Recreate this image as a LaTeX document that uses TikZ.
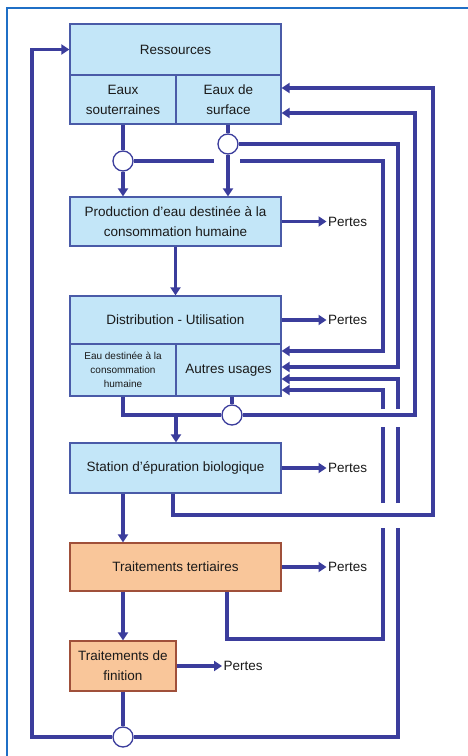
\documentclass[tikz,border=0pt]{standalone}
\usepackage{fontspec}
\setmainfont{Liberation Sans}
\usetikzlibrary{arrows.meta,calc}
\definecolor{lnc}{HTML}{3B3D9C}
\definecolor{bxf}{HTML}{C3E6F8}
\definecolor{bxd}{HTML}{4A5BA8}
\definecolor{obf}{HTML}{F9C69A}
\definecolor{obd}{HTML}{A0503A}
\definecolor{txt}{HTML}{1A1A1A}
\definecolor{frm}{HTML}{1F6FC6}
\begin{document}
\begin{tikzpicture}[x=1pt,y=-1pt,
  box/.style={draw=bxd, fill=bxf, line width=1.2pt, inner sep=0pt, align=center,
    font=\fontsize{13.5}{20}\selectfont, text=txt},
  obox/.style={box, draw=obd, fill=obf},
  small/.style={font=\fontsize{10}{14}\selectfont},
  conn/.style={draw=lnc, line width=3.2pt},
  arr/.style={conn, -{Triangle[length=8pt,width=10pt]}},
  jun/.style={circle, draw=lnc, fill=white, line width=1.3pt, minimum size=20pt, inner sep=0pt},
  lbl/.style={anchor=west, inner sep=1.5pt, font=\fontsize{13.5}{16}\selectfont, text=txt}]
\useasboundingbox (0,0) rectangle (468,756);
\fill[white] (0,0) rectangle (468,756);
\draw[frm, line width=2pt] (7,756) -- (7,8) -- (468,8);

% boxes
\node[box, minimum width=211pt, minimum height=51pt] (res) at (175.5,49.5) {Ressources};
\node[box, minimum width=106pt, minimum height=49pt] (eso) at (123,99.5) {Eaux\\souterraines};
\node[box, minimum width=105pt, minimum height=49pt] (esu) at (228.5,99.5) {Eaux de\\surface};
\node[box, minimum width=211pt, minimum height=49pt] (prod) at (175.5,221.5) {Production d'eau destinée à la\\consommation humaine};
\node[box, minimum width=211pt, minimum height=48pt] (dist) at (175.5,320) {Distribution - Utilisation};
\node[box, small, minimum width=106pt, minimum height=52pt] (eau) at (123,370) {Eau destinée à la\\consommation\\humaine};
\node[box, minimum width=105pt, minimum height=52pt] (aut) at (228.5,370) {Autres usages};
\node[box, minimum width=211pt, minimum height=50pt] (stat) at (175.5,468) {Station d'épuration biologique};
\node[obox, minimum width=211pt, minimum height=48pt] (tert) at (175.5,567) {Traitements tertiaires};
\node[obox, minimum width=106pt, minimum height=50pt] (fin) at (123,666) {Traitements de\\finition};

% losses
\node[lbl] (p1) at (326.5,221.5) {Pertes};
\node[lbl] (p2) at (326.5,320) {Pertes};
\node[lbl] (p3) at (326.5,468) {Pertes};
\node[lbl] (p4) at (326.5,567) {Pertes};
\node[lbl] (p5) at (222,666) {Pertes};
\draw[arr] (prod.east) -- (p1.west);
\draw[arr] (dist.east) -- (p2.west);
\draw[arr] (stat.east) -- (p3.west);
\draw[arr] (tert.east) -- (p4.west);
\draw[arr] (fin.east) -- (p5.west);

% junctions
\node[jun] (c1) at (123,161) {};
\node[jun] (c2) at (228,144) {};
\node[jun] (c3) at (232,415) {};
\node[jun] (c4) at (123,737) {};

% coordinates
\coordinate (k1a) at (214,161);
\coordinate (k1b) at (240,161);
\coordinate (k1c) at (383,161);
\coordinate (k1d) at (383,351);
\coordinate (k2a) at (398,144);
\coordinate (k2b) at (398,367);
\coordinate (k3b) at (415,415);
\coordinate (k3c) at (415,113);
\coordinate (k3d) at (176,415);
\coordinate (k4a) at (173,515);
\coordinate (k4b) at (433,515);
\coordinate (k4c) at (433,88);
\coordinate (k5a) at (227,639);
\coordinate (k5b) at (383,639);
\coordinate (k5c) at (383,390);
\coordinate (g1) at (383,528);
\coordinate (g2) at (383,503);
\coordinate (g3) at (383,427);
\coordinate (g4) at (383,409);
\coordinate (k6a) at (32,737);
\coordinate (k6b) at (32,49.5);
\coordinate (k7a) at (398,737);
\coordinate (k7b) at (398,379);
\coordinate (h1) at (398,528);
\coordinate (h2) at (398,503);
\coordinate (h3) at (398,427);
\coordinate (h4) at (398,409);

% resources to production
\draw[conn] (c1 |- eso.south) -- (c1.north);
\draw[arr] (c1.south) -- (c1.south |- prod.north);
\draw[conn] (c2 |- esu.south) -- (c2.north);
\draw[arr] (c2.south) -- (c2.south |- prod.north);
\draw[conn] (c1.east) -- (k1a);
\draw[arr] (k1b) -- (k1c) -- (k1d) -- (k1d -| aut.east);
\draw[arr] (c2.east) -- (k2a) -- (k2b) -- (k2b -| aut.east);

% production to distribution
\draw[arr] (prod.south) -- (dist.north);

% distribution outflows
\draw[conn] (c1 |- eau.south) -- (c1 |- c3.west) -- (c3.west);
\draw[conn] (c3 |- aut.south) -- (c3.north);
\draw[arr] (c3.east) -- (k3b) -- (k3c) -- (k3c -| esu.east);
\draw[arr] (k3d) -- (k3d |- stat.north);

% station
\draw[arr] (k4a |- stat.south) -- (k4a) -- (k4b) -- (k4c) -- (k4c -| esu.east);
\draw[arr] (c1 |- stat.south) -- (c1 |- tert.north);

% tertiary
\draw[conn] (k5a |- tert.south) -- (k5a) -- (k5b) -- (g1);
\draw[conn] (g2) -- (g3);
\draw[arr] (g4) -- (k5c) -- (k5c -| aut.east);
\draw[arr] (c1 |- tert.south) -- (fin.north);

% finishing
\draw[conn] (fin.south) -- (c4.north);
\draw[arr] (c4.west) -- (k6a) -- (k6b) -- (k6b -| res.west);
\draw[conn] (c4.east) -- (k7a) -- (h1);
\draw[conn] (h2) -- (h3);
\draw[arr] (h4) -- (k7b) -- (k7b -| aut.east);
\end{tikzpicture}
\end{document}
